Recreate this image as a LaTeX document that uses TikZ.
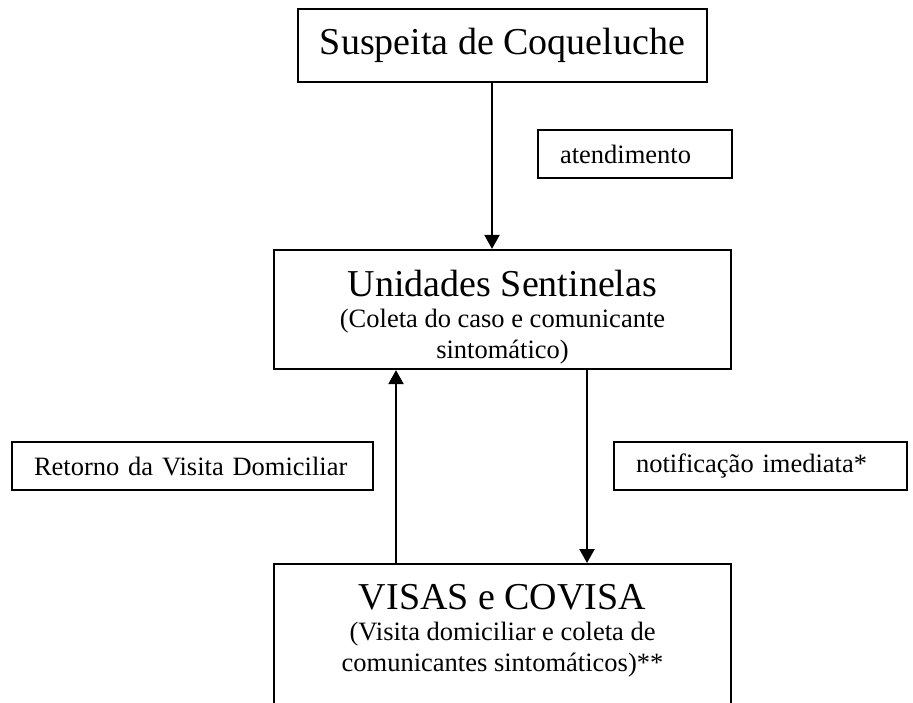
\documentclass[tikz,border=0pt]{standalone}
\usepackage{fontspec}
\setmainfont{Liberation Serif}
\usetikzlibrary{arrows.meta}
\tikzset{
	box/.style={draw,line width=1.1pt,align=center,inner sep=0pt,font=\fontsize{13.25}{15.5}\selectfont},
	tag/.style={draw,line width=1.1pt,align=left,inner xsep=11pt,inner ysep=0pt,minimum height=24pt,font=\fontsize{13.25}{15.5}\selectfont},
	arr/.style={-{Triangle[width=7.5pt,length=7pt]},line width=1.1pt}
}
\newcommand{\headfont}{\fontsize{19}{16}\selectfont}
\begin{document}
\begin{tikzpicture}[x=0.5pt,y=-0.5pt]
		\useasboundingbox (0,0) rectangle (913,702);
		\clip (0,0) rectangle (913,702);
		\node[box,minimum width=204.5pt,minimum height=36.5pt,font=\headfont] (suspeita) at (502.5,45.5) {Suspeita de Coqueluche};
		\node[box,minimum width=228.5pt,minimum height=59.5pt] (sentinelas) at (502.5,309.5) {{\headfont\rule{0pt}{21pt}Unidades Sentinelas}\\(Coleta do caso e comunicante\\sintomático)};
		\node[box,anchor=north,minimum width=228.5pt,inner ysep=10pt,text depth=70pt] (visas) at (502.5,563) {{\headfont VISAS e COVISA}\\(Visita domiciliar e coleta de\\comunicantes sintomáticos)**};
		\node[tag,text width=75pt] (atend) at (635,154) {atendimento};
		\node[tag,text width=158.5pt] (retorno) at (192.5,466) {Retorno da Visita Domiciliar};
		\node[tag,text width=124.5pt] (notif) at (760.5,466) {notificação imediata*};
		\draw[arr] ([xshift=-5.25pt]suspeita.south) -- ([xshift=-5.25pt]sentinelas.north);
		\draw[arr] ([xshift=-53.25pt]visas.north) -- ([xshift=-53.25pt]sentinelas.south);
		\draw[arr] ([xshift=42.25pt]sentinelas.south) -- ([xshift=42.25pt]visas.north);
	\end{tikzpicture}
\end{document}
